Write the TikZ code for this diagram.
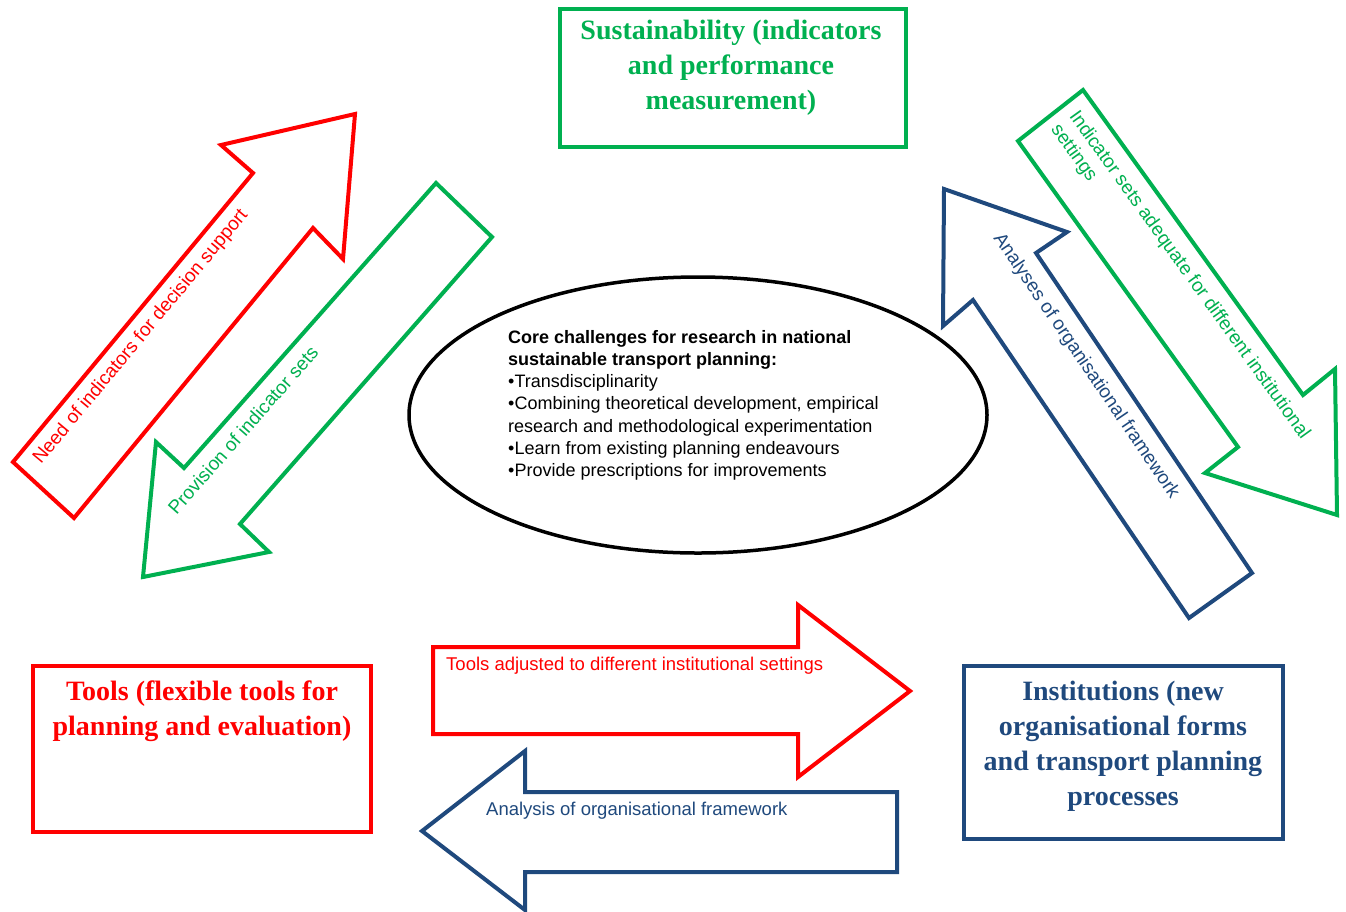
\documentclass[tikz,border=0pt]{standalone}
\usepackage{fontspec}
\setmainfont{Liberation Serif}
\setsansfont{Liberation Sans}
\usetikzlibrary{shapes.geometric}

\definecolor{pptred}{RGB}{255,0,0}
\definecolor{pptgreen}{RGB}{0,176,80}
\definecolor{pptblue}{RGB}{31,73,125}

\tikzset{
  blockarrow/.style={line width=4pt,line join=miter,fill=white},
  topicbox/.style={draw,line width=4pt,inner sep=0pt,outer sep=0pt},
  boxtext/.style={font=\fontsize{28}{35}\selectfont\bfseries,align=center,inner sep=0pt,anchor=north},
  slanttext/.style={font=\sffamily\fontsize{19}{22.5}\selectfont,inner sep=0pt},
  flattext/.style={font=\sffamily\fontsize{18.5}{22}\selectfont,inner sep=0pt,anchor=west}
}

\begin{document}
\begin{tikzpicture}[x=1pt,y=-1pt,line cap=butt]
  \useasboundingbox (0,0) rectangle (1346,911);

  % Three topic boxes.
  \node[topicbox,draw=pptgreen,minimum width=346pt,minimum height=138pt] (sust) at (733,78) {};
  \node[boxtext,text=pptgreen] (sustlbl) at (731,19.5)
    {Sustainability (indicators\\and performance\\measurement)};

  \node[topicbox,draw=pptred,minimum width=338pt,minimum height=166pt] (tools) at (202,749) {};
  \node[boxtext,text=pptred] (toolslbl) at (202,680.5)
    {Tools (flexible tools for\\planning and evaluation)};

  \node[topicbox,draw=pptblue,minimum width=319pt,minimum height=173pt] (inst) at (1123.5,752.5) {};
  \node[boxtext,text=pptblue] (instlbl) at (1123,680.5)
    {Institutions (new\\organisational forms\\and transport planning\\processes};

  % Central ellipse with the list of challenges.
  \node[draw,ellipse,line width=3.5pt,minimum width=578pt,minimum height=276pt,inner sep=0pt] (core) at (698,415) {};
  \node[anchor=north west,align=left,inner sep=0pt,font=\sffamily\fontsize{18}{22.2}\selectfont] (corelbl) at (508,330)
    {\textbf{Core challenges for research in national}\\
     \textbf{sustainable transport planning:}\\
     •Transdisciplinarity\\
     •Combining theoretical development, empirical\\
     research and methodological experimentation\\
     •Learn from existing planning endeavours\\
     •Provide prescriptions for improvements};

  % Left pair: tools <-> sustainability.
  \draw[blockarrow,draw=pptred] (13,462) -- (253,173) -- (221,145) -- (355,114)
    -- (343,259) -- (313,228) -- (74,518) -- cycle;
  \node[slanttext,text=pptred,rotate=50.3] (needlbl) at (141,337)
    {Need of indicators for decision support};

  \draw[blockarrow,draw=pptgreen] (436,183) -- (492,237) -- (240,524) -- (269,552)
    -- (143,577) -- (156,442) -- (184,468) -- cycle;
  \node[slanttext,text=pptgreen,rotate=48.7] (provlbl) at (243,430)
    {Provision of indicator sets};

  % Right pair: sustainability <-> institutions.
  \draw[blockarrow,draw=pptgreen] (1083,90) -- (1303,395) -- (1335,369) -- (1337,515)
    -- (1205,473) -- (1238,447) -- (1018,141) -- cycle;
  \node[slanttext,text=pptgreen,rotate=-54.3,anchor=north west,align=left] (adeqlbl) at (1080,108)
    {Indicator sets adequate for different institutional\\settings};

  \draw[blockarrow,draw=pptblue] (944,189) -- (1067,232) -- (1036,253) -- (1252,573)
    -- (1189,618) -- (973,300) -- (943,326) -- cycle;
  \node[slanttext,text=pptblue,rotate=-55.8] (anallbl) at (1086,366)
    {Analyses of organisational framework};

  % Bottom pair: tools <-> institutions.
  \draw[blockarrow,draw=pptred] (433,647) -- (798,647) -- (798,605) -- (910,691)
    -- (798,777) -- (798,734) -- (433,734) -- cycle;
  \node[flattext,text=pptred] (adjlbl) at (446,666)
    {Tools adjusted to different institutional settings};

  \draw[blockarrow,draw=pptblue] (897,792) -- (525,792) -- (525,751) -- (422,831)
    -- (525,910) -- (525,872) -- (897,872) -- cycle;
  \node[flattext,text=pptblue] (orglbl) at (486,811)
    {Analysis of organisational framework};
\end{tikzpicture}
\end{document}
